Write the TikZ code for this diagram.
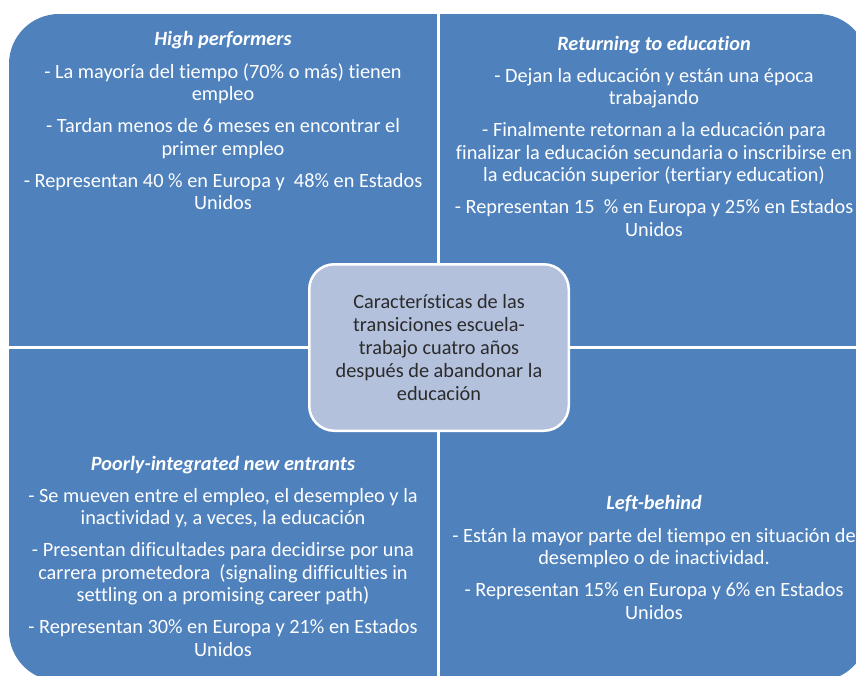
\documentclass[tikz,border=0pt]{standalone}
\usepackage{fontspec}
\setmainfont{Carlito}[Ligatures={NoCommon}]
\definecolor{qblue}{HTML}{4F81BD}
\definecolor{cfill}{HTML}{B4C1DD}
\definecolor{ctext}{HTML}{2B2B2B}
\tikzset{
  quad/.style={fill=qblue},
  ttl/.style={font=\fontsize{20.3}{22.5}\selectfont\bfseries\itshape, text=white, inner sep=0pt, anchor=base},
  body/.style={font=\fontsize{20.3}{22.5}\selectfont, text=white, align=center, inner sep=0pt, anchor=north},
  hub/.style={rounded corners=25pt, draw=white, line width=2.5pt, fill=cfill, minimum width=259.5pt, minimum height=166.5pt, text=ctext, align=center, font=\fontsize{20.3}{23}\selectfont, inner sep=0pt}
}
\begin{document}
\begin{tikzpicture}[x=1pt,y=-1pt]
\useasboundingbox (0,0) rectangle (856,675);
\begin{scope}
  \clip (0,0) rectangle (856,675);
  \clip[rounded corners=50pt] (9,14) rectangle (868,681);
  \fill[quad] (9,14) rectangle (437,346);
  \fill[quad] (440,14) rectangle (868,346);
  \fill[quad] (9,349) rectangle (437,681);
  \fill[quad] (440,349) rectangle (868,681);
\end{scope}

\node[ttl] (t1) at (223,45) {High performers};
\node[body] (b1) at (223,62.25) {\strut- La mayoría del tiempo (70\% o más) tienen\\empleo\\[9.5pt]
- Tardan menos de 6 meses en encontrar el\\primer empleo\\[9.5pt]
- Representan 40 \% en Europa y\ \ 48\% en Estados\\Unidos};

\node[ttl] (t2) at (654,50) {Returning to education};
\node[body] (b2) at (654,66.25) {\strut- Dejan la educación y están una época\\trabajando\\[9.5pt]
- Finalmente retornan a la educación para\\finalizar la educación secundaria o inscribirse en\\la educación superior (tertiary education)\\[9.5pt]
- Representan 15\ \ \% en Europa y 25\% en Estados\\Unidos};

\node[ttl] (t3) at (223,470) {Poorly-integrated new entrants};
\node[body] (b3) at (223,486.25) {\strut- Se mueven entre el empleo, el desempleo y la\\inactividad y, a veces, la educación\\[9.5pt]
- Presentan dificultades para decidirse por una\\carrera prometedora\ \ (signaling difficulties in\\settling on a promising career path)\\[9.5pt]
- Representan 30\% en Europa y 21\% en Estados\\Unidos};

\node[ttl] (t4) at (654,509) {Left-behind};
\node[body] (b4) at (654,526.25) {\strut- Están la mayor parte del tiempo en situación de\\desempleo o de inactividad.\\[9.5pt]
- Representan 15\% en Europa y 6\% en Estados\\Unidos};

\node[hub] (hub) at (439,347.5) {Características de las\\transiciones escuela-\\trabajo cuatro años\\después de abandonar la\\educación};
\end{tikzpicture}
\end{document}
